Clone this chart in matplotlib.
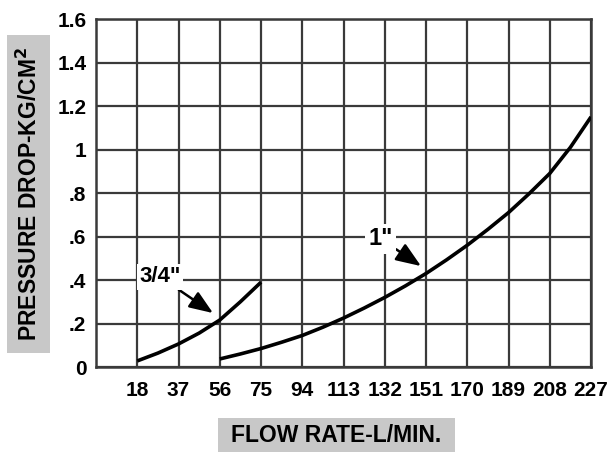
import matplotlib
matplotlib.use("Agg")
import matplotlib.pyplot as plt
from matplotlib.patches import Rectangle

# flow rate ticks (L/min) and pressure drop ticks (kg/cm2)
flow_ticks = [18, 37, 56, 75, 94, 113, 132, 151, 170, 189, 208, 227]
drop_ticks = [0, 0.2, 0.4, 0.6, 0.8, 1.0, 1.2, 1.4, 1.6]
drop_labels = ["0", ".2", ".4", ".6", ".8", "1", "1.2", "1.4", "1.6"]

# 3/4" hose
flow_34 = [18, 27.5, 37, 46.5, 56, 65.5, 75]
drop_34 = [0.028, 0.064, 0.106, 0.156, 0.216, 0.30, 0.39]

# 1" hose
flow_1 = [56, 65.5, 75, 84.5, 94, 103.5, 113, 122.5, 132, 141.5, 151,
          160.5, 170, 179.5, 189, 198.5, 208, 217.5, 227]
drop_1 = [0.037, 0.060, 0.085, 0.114, 0.145, 0.183, 0.225, 0.271, 0.32, 0.373, 0.43,
          0.493, 0.56, 0.633, 0.71, 0.797, 0.89, 1.01, 1.15]

plt.rcParams['font.family'] = ['Liberation Sans', 'DejaVu Sans']
plt.rcParams['font.weight'] = 'bold'

fig = plt.figure(figsize=(6.1, 4.59), dpi=100)
ax = fig.add_axes([0.1574, 0.2004, 0.8115, 0.7582])

ax.plot(flow_34, drop_34, color='black', lw=2.6, solid_capstyle='butt',
        solid_joinstyle='round', zorder=3)
ax.plot(flow_1, drop_1, color='black', lw=2.6, solid_capstyle='butt',
        solid_joinstyle='round', zorder=3)

ax.set_xlim(-1, 227)
ax.set_ylim(0, 1.6)
ax.set_xticks(flow_ticks)
ax.set_xticklabels([str(v) for v in flow_ticks], fontsize=15, fontweight='bold')
ax.set_yticks(drop_ticks)
ax.set_yticklabels(drop_labels, fontsize=15, fontweight='bold')
ax.tick_params(axis='x', length=0, pad=10)
ax.tick_params(axis='y', length=0, pad=7)
ax.grid(True, color='#3a3a3a', lw=1.6)
ax.set_axisbelow(True)
for s in ax.spines.values():
    s.set_color('#3a3a3a')
    s.set_linewidth(1.8)

arrow = dict(arrowstyle='-|>,head_length=0.9,head_width=0.35', color='black', lw=1.8,
             shrinkA=0, shrinkB=0)
ax.annotate('3/4"', xy=(52.9, 0.248), xytext=(28.5, 0.414), ha='center', va='center',
            fontsize=16, fontweight='bold', arrowprops=arrow,
            bbox=dict(boxstyle='square,pad=0.1', fc='white', ec='none'))
ax.annotate('1"', xy=(148.7, 0.464), xytext=(130.0, 0.59), ha='center', va='center',
            fontsize=17, fontweight='bold', arrowprops=arrow,
            bbox=dict(boxstyle='square,pad=0.15', fc='white', ec='none'))

# gray label panels
fig.patches.append(Rectangle((0.0115, 0.231), 0.0705, 0.693, transform=fig.transFigure,
                             fc='#c8c8c8', ec='none'))
fig.text(0.048, 0.5775, 'PRESSURE DROP-KG/CM$^\\mathbf{2}$', rotation=90, ha='center',
         va='center', fontsize=16.5, fontweight='bold')
fig.patches.append(Rectangle((0.357, 0.015), 0.389, 0.074, transform=fig.transFigure,
                             fc='#c8c8c8', ec='none'))
fig.text(0.5515, 0.052, 'FLOW RATE-L/MIN.', ha='center', va='center',
         fontsize=16.5, fontweight='bold')

fig.savefig('out.png', dpi=100)
